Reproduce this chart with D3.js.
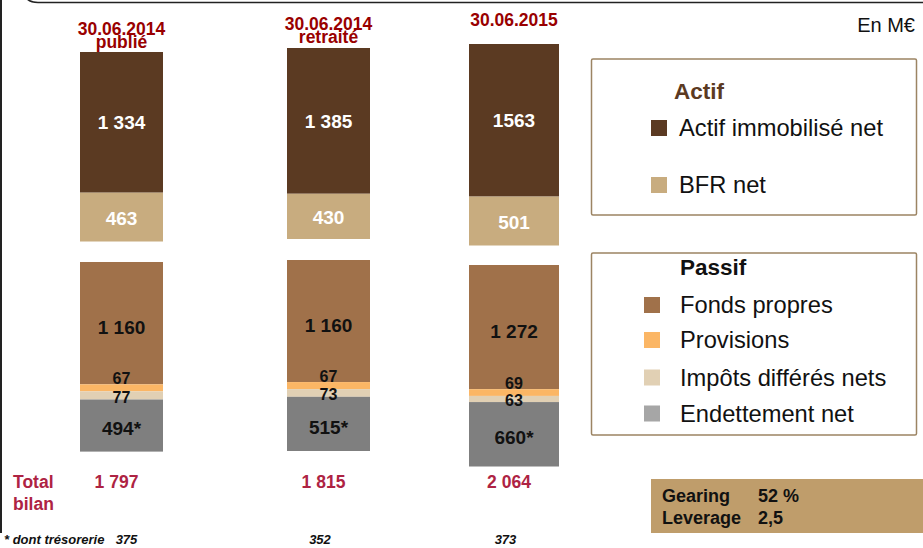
<!DOCTYPE html>
<html>
<head>
<meta charset="utf-8">
<script src="https://cdn.jsdelivr.net/npm/d3@7/dist/d3.min.js"></script>
<style>
  body { margin: 0; background: #fff; }
  svg { display: block; font-family: "Liberation Sans", Arial, sans-serif; }
</style>
</head>
<body>
<div id="chart"></div>
<script>
// data (M€)
var columns = ["publie", "retraite", "2015"];
var headerLines = [["30.06.2014", "publié"], ["30.06.2014", "retraité"], ["30.06.2015"]];
var actifImmobilise = [1334, 1385, 1563];
var actifImmobiliseLabels = ["1 334", "1 385", "1563"];
var bfrNet = [463, 430, 501];
var fondsPropres = [1160, 1160, 1272];
var provisions = [67, 67, 69];
var impotsDifferes = [77, 73, 63];
var endettement = [494, 515, 660];
var totalBilan = [1797, 1815, 2064];
var tresorerie = [375, 352, 373];
var gearing = "52 %";
var leverage = "2,5";

var width = 923, height = 548;

var fr = d3.formatLocale({decimal: ",", thousands: " ", grouping: [3], currency: ["", " €"]});
var fmt = fr.format(",d");

var svg = d3.select("#chart").append("svg")
    .attr("width", width)
    .attr("height", height);

// frame lines
svg.append("path")
    .attr("d", "M24,-6 Q27,2.5 38,2.5 H923")
    .attr("fill", "none")
    .attr("stroke", "#222")
    .attr("stroke-width", 1.6);
svg.append("line")
    .attr("x1", 1).attr("x2", 1)
    .attr("y1", 0).attr("y2", 533)
    .attr("stroke", "#222")
    .attr("stroke-width", 2);

// layout scales
var xCenter = d3.scaleOrdinal().domain(columns).range([121.5, 328.5, 514]);
var barWidth = d3.scaleOrdinal().domain(columns).range([83, 83, 90]);
var actifTop = d3.scaleOrdinal().domain(columns).range([52, 48, 44]);
var passifTop = d3.scaleOrdinal().domain(columns).range([262, 260, 265]);
var stackPx = d3.scaleOrdinal().domain(columns).range([189.5, 191, 201.5]);

function hScale(i) {
  return d3.scaleLinear().domain([0, totalBilan[i]]).range([0, stackPx(columns[i])]);
}

var colors = {
  actif: "#5B3A22",
  bfr: "#C8AC7F",
  fp: "#A0714A",
  prov: "#FBB665",
  imp: "#E1D0B4",
  dette: "#7F7F7F",
  detteLegend: "#A6A6A6"
};

// build segments
var segments = [];
columns.forEach(function(c, i) {
  var h = hScale(i);
  var stacks = [
    {top: actifTop(c), parts: [
      {key: "actif", v: actifImmobilise[i], label: actifImmobiliseLabels[i], fill: "#fff", size: 19, dy: 0},
      {key: "bfr", v: bfrNet[i], label: fmt(bfrNet[i]), fill: "#fff", size: 19, dy: 1}
    ]},
    {top: passifTop(c), parts: [
      {key: "fp", v: fondsPropres[i], label: fmt(fondsPropres[i]), fill: "#111", size: 19, dy: 4},
      {key: "prov", v: provisions[i], label: fmt(provisions[i]), fill: "#111", size: 16, dy: "above"},
      {key: "imp", v: impotsDifferes[i], label: fmt(impotsDifferes[i]), fill: "#111", size: 16, dy: 1.5},
      {key: "dette", v: endettement[i], label: fmt(endettement[i]) + "*", fill: "#111", size: 19, dy: 3}
    ]}
  ];
  stacks.forEach(function(s) {
    var y0 = s.top;
    s.parts.forEach(function(p) {
      var y1 = y0 + h(p.v);
      segments.push({col: c, y0: y0, y1: y1, key: p.key, label: p.label, fill: p.fill, size: p.size, dy: p.dy});
      y0 = y1;
    });
  });
});

svg.selectAll(".seg")
    .data(segments)
    .enter().append("rect")
    .attr("class", "seg")
    .attr("x", function(d) { return xCenter(d.col) - barWidth(d.col) / 2; })
    .attr("y", function(d) { return d.y0; })
    .attr("width", function(d) { return barWidth(d.col); })
    .attr("height", function(d) { return d.y1 - d.y0; })
    .style("fill", function(d) { return colors[d.key]; });

svg.selectAll(".segLabel")
    .data(segments)
    .enter().append("text")
    .attr("class", "segLabel")
    .attr("x", function(d) { return xCenter(d.col); })
    .attr("y", function(d) {
      if (d.dy === "above") return d.y0 - 6;
      return (d.y0 + d.y1) / 2 + d.dy;
    })
    .attr("dy", "0.35em")
    .attr("text-anchor", "middle")
    .style("font-weight", "bold")
    .style("font-size", function(d) { return d.size + "px"; })
    .style("fill", function(d) { return d.fill; })
    .text(function(d) { return d.label; });

// column headers
var headerBase = d3.scaleOrdinal().domain(columns).range([34.5, 29.5, 26]);
columns.forEach(function(c, i) {
  svg.append("text")
      .attr("x", xCenter(c))
      .attr("y", headerBase(c))
      .attr("text-anchor", "middle")
      .style("font-weight", "bold")
      .style("font-size", "17.5px")
      .style("fill", "#990000")
      .selectAll("tspan")
      .data(headerLines[i])
      .enter().append("tspan")
      .attr("x", xCenter(c))
      .attr("dy", function(d, j) { return j ? 13.8 : 0; })
      .text(function(d) { return d; });
});

svg.append("text")
    .attr("x", 915)
    .attr("y", 32)
    .attr("text-anchor", "end")
    .style("font-size", "20px")
    .style("fill", "#111")
    .text("En M€");

// total bilan
var totalColor = "#AE2343";
svg.append("text")
    .attr("x", 13)
    .attr("y", 488)
    .style("font-weight", "bold")
    .style("font-size", "17.5px")
    .style("fill", totalColor)
    .text("Total");
svg.append("text")
    .attr("x", 13)
    .attr("y", 510)
    .style("font-weight", "bold")
    .style("font-size", "17.5px")
    .style("fill", totalColor)
    .text("bilan");

svg.selectAll(".total")
    .data(totalBilan)
    .enter().append("text")
    .attr("class", "total")
    .attr("x", function(d, i) { return xCenter(columns[i]) - 5; })
    .attr("y", 488)
    .attr("text-anchor", "middle")
    .style("font-weight", "bold")
    .style("font-size", "17.5px")
    .style("fill", totalColor)
    .text(function(d) { return fmt(d); });

// footnote
svg.append("text")
    .attr("x", 4)
    .attr("y", 544)
    .style("font-weight", "bold")
    .style("font-style", "italic")
    .style("font-size", "13px")
    .style("fill", "#111")
    .text("* dont trésorerie");

svg.selectAll(".treso")
    .data(tresorerie)
    .enter().append("text")
    .attr("class", "treso")
    .attr("x", function(d, i) { return xCenter(columns[i]) + (i === 0 ? 5 : -8.5); })
    .attr("y", 544)
    .attr("text-anchor", "middle")
    .style("font-weight", "bold")
    .style("font-style", "italic")
    .style("font-size", "13px")
    .style("fill", "#111")
    .text(function(d) { return d; });

// legends
var boxStroke = "#9C8463";

svg.append("rect")
    .attr("x", 591.5).attr("y", 59)
    .attr("width", 325).attr("height", 156)
    .attr("rx", 1.5)
    .style("fill", "none")
    .style("stroke", boxStroke)
    .style("stroke-width", 1.5);

svg.append("text")
    .attr("x", 674).attr("y", 99)
    .style("font-weight", "bold")
    .style("font-size", "22.5px")
    .style("fill", colors.actif)
    .text("Actif");

var actifLegend = [
  {label: "Actif immobilisé net", color: colors.actif, y: 136},
  {label: "BFR net", color: colors.bfr, y: 193}
];

var passifLegend = [
  {label: "Fonds propres", color: colors.fp, y: 313},
  {label: "Provisions", color: colors.prov, y: 348},
  {label: "Impôts différés nets", color: colors.imp, y: 385.5},
  {label: "Endettement net", color: colors.detteLegend, y: 421.5}
];

function drawLegend(items, sx, tx) {
  var g = svg.append("g");
  g.selectAll("rect")
      .data(items)
      .enter().append("rect")
      .attr("x", sx)
      .attr("y", function(d) { return d.y - 16; })
      .attr("width", 16)
      .attr("height", 16)
      .style("fill", function(d) { return d.color; });
  g.selectAll("text")
      .data(items)
      .enter().append("text")
      .attr("x", tx)
      .attr("y", function(d) { return d.y; })
      .style("font-size", "23.7px")
      .style("fill", "#111")
      .text(function(d) { return d.label; });
}

drawLegend(actifLegend, 651, 679);

svg.append("rect")
    .attr("x", 591.5).attr("y", 253)
    .attr("width", 325).attr("height", 182)
    .attr("rx", 1.5)
    .style("fill", "none")
    .style("stroke", boxStroke)
    .style("stroke-width", 1.5);

svg.append("text")
    .attr("x", 680).attr("y", 275)
    .style("font-weight", "bold")
    .style("font-size", "22.5px")
    .style("fill", "#111")
    .text("Passif");

drawLegend(passifLegend, 644, 680);

// gearing box
svg.append("rect")
    .attr("x", 651).attr("y", 479)
    .attr("width", 272).attr("height", 54)
    .style("fill", "#BF9D6B");

var ratios = [["Gearing", gearing, 502], ["Leverage", leverage, 523.5]];
ratios.forEach(function(r) {
  svg.append("text")
      .attr("x", 662).attr("y", r[2])
      .style("font-weight", "bold")
      .style("font-size", "18px")
      .style("fill", "#111")
      .text(r[0]);
  svg.append("text")
      .attr("x", 758).attr("y", r[2])
      .style("font-weight", "bold")
      .style("font-size", "18px")
      .style("fill", "#111")
      .text(r[1]);
});
</script>
</body>
</html>
